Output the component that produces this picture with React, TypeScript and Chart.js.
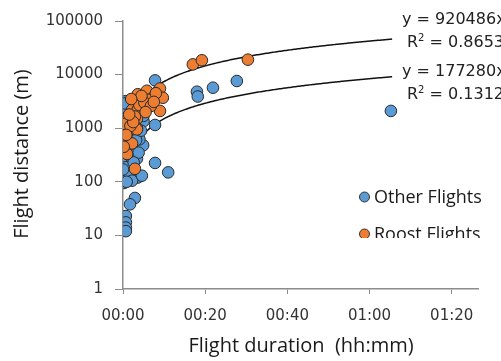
import { useEffect, useRef } from "react";
import { Chart, registerables } from "chart.js";

Chart.register(...registerables);

// Flight duration in minutes, flight distance in metres
const otherX = [65.2, 18.0, 18.2, 21.9, 27.7, 7.8, 0.7, 7.8, 5.0, 7.8, 11.0, 2.9, 1.7, 0.7, 0.7, 0.7, 0.7, 5.4, 6.0, 4.9, 3.6, 1.2, 1.0, 3.4, 0.5, 0.2, 0.3, 0.1, 0.8, 0.4, 1.5, 0.6, 2.0, 0.3, 1.2, 2.5, 0.1, 3.0, 1.8, 0.4, 2.3, 4.0, 3.8, 1.6, 2.2, 4.6, 0.2, 0.5, 1.0, 0.0, 0.0, 0.0, 0.0, 2.6, 3.2, 4.4, 5.0, 1.3, 0.9];
const otherY = [2100, 4800, 3900, 5700, 7600, 7800, 3200, 1150, 1350, 225, 150, 50, 38, 23, 17.5, 14, 12, 2300, 3900, 480, 120, 120, 225, 270, 145, 95, 110, 130, 165, 190, 300, 380, 430, 550, 680, 800, 900, 1050, 1300, 1700, 1900, 620, 350, 140, 105, 130, 2500, 2900, 1000, 700, 300, 170, 1300, 230, 600, 900, 1700, 480, 100];

const roostX = [30.4, 17.0, 19.2, 3.6, 5.8, 9.0, 9.7, 7.3, 9.0, 6.1, 4.6, 2.9, 2.2, 3.6, 1.2, 3.4, 0.5, 3.4, 2.9, 1.2, 3.4, 0.5, 2.2, 1.0, 2.9, 0.3, 1.8, 0.8, 2.5, 4.0, 1.5, 0.2, 5.2, 4.5, 8.0, 6.8, 5.5, 2.0, 7.5];
const roostY = [19000, 15500, 18500, 4300, 5000, 5500, 3700, 3700, 2100, 3400, 3150, 2800, 2200, 2250, 1470, 1500, 1000, 1000, 1650, 880, 950, 620, 520, 330, 175, 1200, 1100, 750, 1300, 2700, 1800, 450, 3000, 4000, 4500, 2600, 2000, 3500, 3100];

const xTickMinutes = [0, 20, 40, 60, 80];
const yTickValues = [1, 10, 100, 1000, 10000, 100000];

// Power trendlines y = a * x^b (x in days), as displayed on the chart
const trendA = [920486, 177280];
const trendB = [0.97, 0.96];
const trendEq = ["y = 920486x", "y = 177280x"];
const trendR2 = ["0.8653", "0.1312"];
const trendXRange = [1.0, 65.5]; // minutes

const seriesNames = ["Other Flights", "Roost Flights"];
const seriesColors = ["#5B9BD5", "#ED7D31"];

const W = 501;
const H = 361;

function fmtTime(m: number) {
  const h = Math.floor(m / 60);
  const mm = Math.round(m % 60);
  return `${String(h).padStart(2, "0")}:${String(mm).padStart(2, "0")}`;
}

function trendPoints(i: number) {
  const pts: { x: number; y: number }[] = [];
  const n = 200;
  for (let k = 0; k <= n; k++) {
    const x = trendXRange[0] + ((trendXRange[1] - trendXRange[0]) * k) / n;
    pts.push({ x, y: trendA[i] * Math.pow(x / 1440, trendB[i]) });
  }
  return pts;
}

const overlayPlugin = {
  id: "overlay",
  afterDraw(chart: any) {
    const ctx = chart.ctx as CanvasRenderingContext2D;
    ctx.save();
    // axis titles
    ctx.fillStyle = "#1a1a1a";
    ctx.font = "20px 'Open Sans'";
    ctx.textAlign = "center";
    ctx.textBaseline = "middle";
    ctx.fillText("Flight duration  (hh:mm)", 301, 346);
    ctx.save();
    ctx.translate(22, 154);
    ctx.rotate(-Math.PI / 2);
    ctx.fillText("Flight distance (m)", 0, 0);
    ctx.restore();

    // trendline labels
    ctx.textAlign = "left";
    ctx.fillStyle = "#222";
    const eqY = [20, 72];
    const r2Y = [43, 95];
    for (let i = 0; i < 2; i++) {
      ctx.font = "16px 'DejaVu Sans'";
      ctx.fillText(trendEq[i], 402, eqY[i]);
      const rx = 407;
      ctx.fillText("R", rx, r2Y[i]);
      const rw = ctx.measureText("R").width;
      ctx.font = "10px 'DejaVu Sans'";
      ctx.fillText("2", rx + rw, r2Y[i] - 5);
      const sw = ctx.measureText("2").width;
      ctx.font = "16px 'DejaVu Sans'";
      ctx.fillText(" = " + trendR2[i], rx + rw + sw, r2Y[i]);
    }

    // legend (clipped at its bottom as in the reference)
    ctx.save();
    ctx.beginPath();
    ctx.rect(350, 180, 151, 58);
    ctx.clip();
    const ly = [197, 234];
    for (let i = 0; i < 2; i++) {
      ctx.beginPath();
      ctx.arc(364.5, ly[i], 5, 0, Math.PI * 2);
      ctx.fillStyle = seriesColors[i];
      ctx.fill();
      ctx.lineWidth = 1;
      ctx.strokeStyle = "#333";
      ctx.stroke();
      ctx.fillStyle = "#1a1a1a";
      ctx.font = "18px 'Open Sans'";
      ctx.textBaseline = "middle";
      ctx.fillText(seriesNames[i], 374, ly[i] + 1);
    }
    ctx.restore();
    ctx.restore();
  },
};

export default function App() {
  const ref = useRef<HTMLCanvasElement | null>(null);
  useEffect(() => {
    if (!ref.current) return;
    const chart = new Chart(ref.current, {
      type: "scatter",
      data: {
        datasets: [
          {
            label: seriesNames[1],
            data: roostX.map((x, i) => ({ x, y: roostY[i] })),
            backgroundColor: seriesColors[1],
            borderColor: "#2a2a2a",
            borderWidth: 1,
            pointRadius: 5.8,
            order: 0,
          },
          {
            label: seriesNames[0],
            data: otherX.map((x, i) => ({ x, y: otherY[i] })),
            backgroundColor: seriesColors[0],
            borderColor: "#2a2a2a",
            borderWidth: 1,
            pointRadius: 5.8,
            order: 1,
          },
          {
            type: "line",
            label: "trend roost",
            data: trendPoints(0),
            borderColor: "#111",
            borderWidth: 1.5,
            pointRadius: 0,
            fill: false,
            tension: 0,
            order: 2,
          } as any,
          {
            type: "line",
            label: "trend other",
            data: trendPoints(1),
            borderColor: "#111",
            borderWidth: 1.5,
            pointRadius: 0,
            fill: false,
            tension: 0,
            order: 2,
          } as any,
        ],
      },
      options: {
        responsive: false,
        animation: false,
        events: [],
        layout: { padding: { top: 19, right: 23, left: 0, bottom: 0 } },
        plugins: { legend: { display: false }, tooltip: { enabled: false } },
        scales: {
          x: {
            type: "linear",
            min: 0,
            max: 86.4,
            afterBuildTicks: (s: any) => {
              s.ticks = xTickMinutes.map((v) => ({ value: v }));
            },
            afterFit: (s: any) => {
              s.height = 72;
            },
            grid: { drawOnChartArea: false, drawTicks: true, tickLength: 5, color: "#8c8c8c" },
            border: { display: true, color: "#8c8c8c", width: 1.5 },
            ticks: {
              autoSkip: false,
              maxRotation: 0,
              padding: 13,
              color: "#333",
              font: { family: "'DejaVu Sans'", size: 15 },
              callback: (v: any) => fmtTime(Number(v)),
            },
          },
          y: {
            type: "logarithmic",
            min: 1,
            max: 100000,
            afterBuildTicks: (s: any) => {
              s.ticks = yTickValues.map((v) => ({ value: v }));
            },
            afterFit: (s: any) => {
              s.width = 123;
            },
            grid: { drawOnChartArea: false, drawTicks: true, tickLength: 8, color: "#8c8c8c" },
            border: { display: true, color: "#8c8c8c", width: 1.5 },
            ticks: {
              autoSkip: false,
              padding: 12,
              color: "#333",
              font: { family: "'DejaVu Sans'", size: 15 },
              callback: (v: any) => String(v),
            },
          },
        },
      },
      plugins: [overlayPlugin],
    });
    return () => chart.destroy();
  }, []);
  return (
    <div style={{ position: "absolute", left: 0, top: 0, width: W, height: H, background: "#fff" }}>
      <canvas ref={ref} width={W} height={H} style={{ display: "block" }} />
    </div>
  );
}
